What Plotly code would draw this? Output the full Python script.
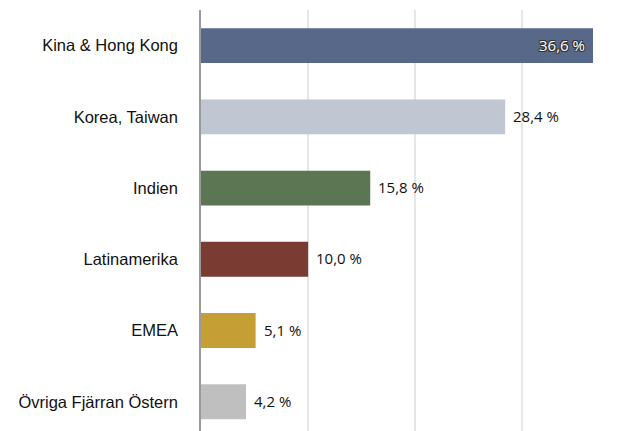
import plotly.graph_objects as go

categories = ["Kina & Hong Kong", "Korea, Taiwan", "Indien", "Latinamerika", "EMEA", "Övriga Fjärran Östern"]
values = [36.6, 28.4, 15.8, 10.0, 5.1, 4.2]
colors = ["#586889", "#c0c7d3", "#5c7552", "#7a3b33", "#c59f33", "#bfbfbf"]
labels = [f"{v:.1f}".replace(".", ",") + " %" for v in values]

fig = go.Figure()
fig.add_trace(go.Bar(
    y=categories, x=values, orientation="h",
    marker=dict(color=colors, line=dict(width=0)),
    width=0.49, hoverinfo="skip",
))

annotations = []
for i, (c, v, lab) in enumerate(zip(categories, values, labels)):
    if i == 0:
        annotations.append(dict(
            x=v, y=c, text=lab, showarrow=False, xanchor="right", xshift=-6, yshift=1,
            font=dict(family="Open Sans", size=15, color="white",
                      shadow="-1px -1px 0 #333, 1px -1px 0 #333, -1px 1px 0 #333, 1px 1px 0 #333"),
        ))
    else:
        annotations.append(dict(
            x=v, y=c, text=lab, showarrow=False, xanchor="left", xshift=6, yshift=1,
            font=dict(family="Open Sans", size=15, color="#111111"),
        ))

fig.update_layout(
    width=623, height=431,
    margin=dict(l=201, r=0, t=10, b=0),
    plot_bgcolor="white", paper_bgcolor="white",
    showlegend=False,
    annotations=annotations,
    xaxis=dict(range=[0, 39.4], tickvals=[10, 20, 30], showticklabels=False,
               showgrid=True, gridcolor="#e6e6e6", gridwidth=1.5, zeroline=False,
               showline=False, fixedrange=True),
    yaxis=dict(range=[5.41, -0.5], showline=True, linecolor="#9a9a9a", linewidth=1.5,
               ticks="", ticklabelstandoff=18, showgrid=False, zeroline=False,
               tickfont=dict(family="Liberation Sans, Arial", size=16.5, color="#111111")),
)

fig.write_html("out.html")
